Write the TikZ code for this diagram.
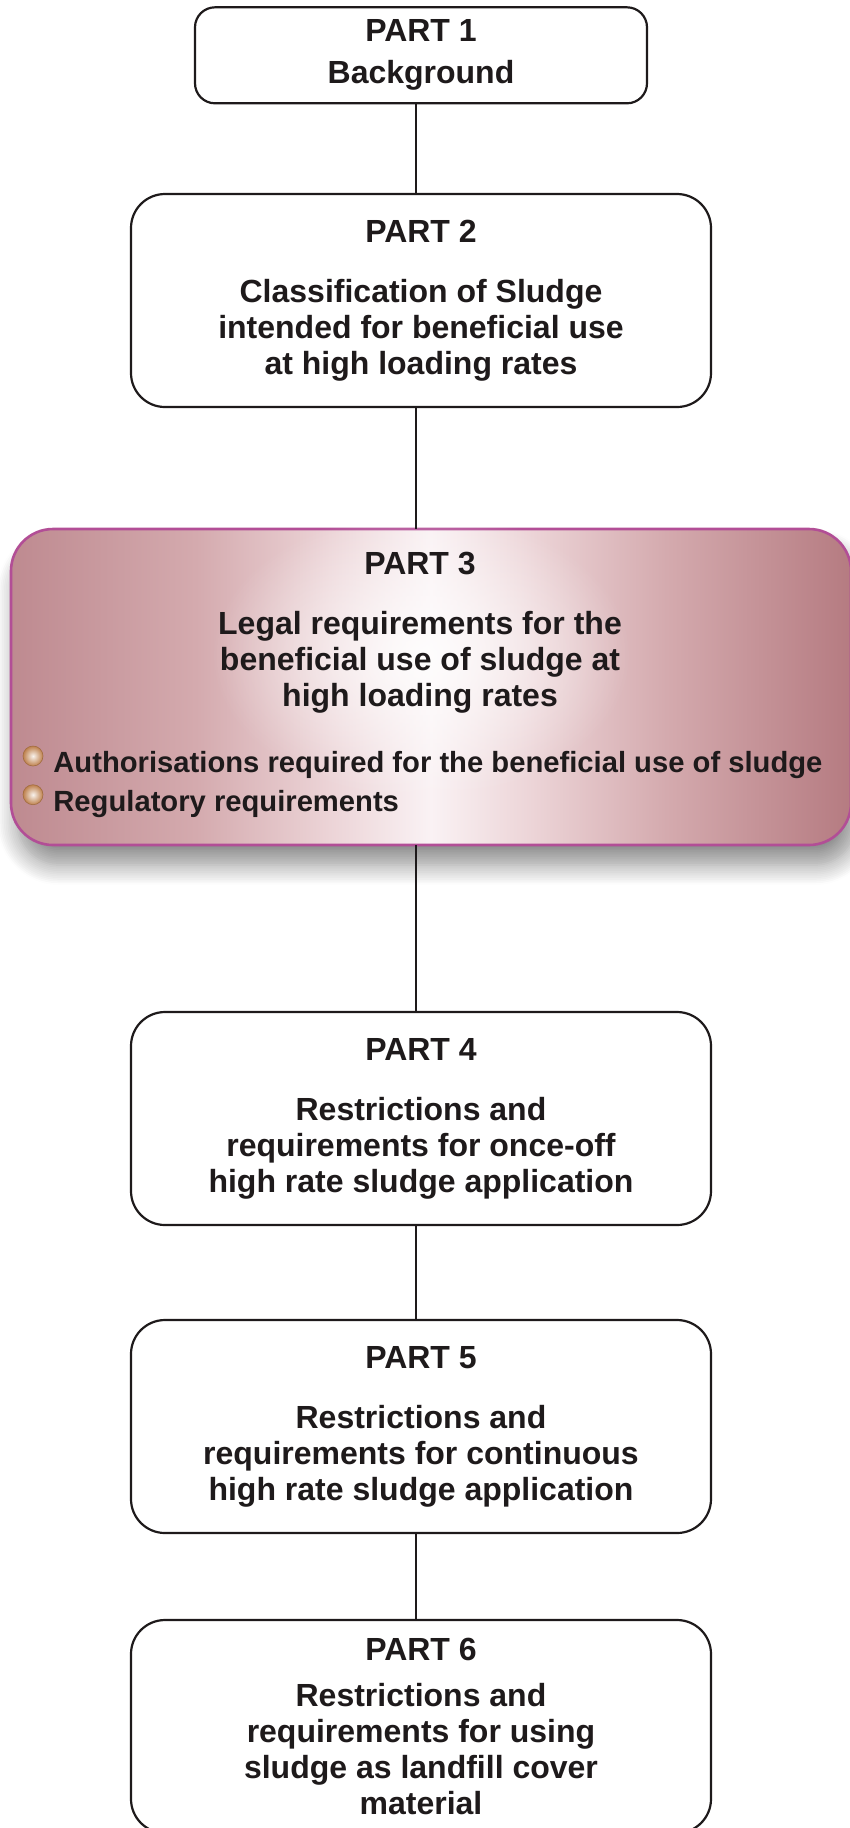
\documentclass[tikz,border=0pt]{standalone}
\usepackage{fontspec}
\setmainfont{Liberation Sans}
\usetikzlibrary{positioning,shadows.blur,fadings}

\definecolor{inkdark}{RGB}{30,26,27}
\definecolor{mauveedge}{RGB}{190,138,144}
\definecolor{mauveright}{RGB}{181,123,129}
\definecolor{mauvemid}{RGB}{212,170,174}
\definecolor{mauvelight}{RGB}{236,212,215}
\definecolor{mauvecore}{RGB}{250,242,244}
\definecolor{rimmagenta}{RGB}{178,78,150}
\definecolor{balltan}{RGB}{190,128,76}

\newcommand{\partfont}{\bfseries\fontsize{16pt}{18pt}\selectfont}
\newcommand{\bulletfont}{\bfseries\fontsize{14.6pt}{17pt}\selectfont}

\pgfdeclarehorizontalshading{partglow}{100bp}{color(0bp)=(mauveedge); color(25bp)=(mauveedge); color(36bp)=(mauvemid); color(44bp)=(mauvelight); color(50bp)=(mauvecore); color(56bp)=(mauvelight); color(64bp)=(mauvemid); color(75bp)=(mauveright); color(100bp)=(mauveright)}
\tikzfading[name=glowfade, inner color=transparent!0, outer color=transparent!100]

\tikzset{
  partbox/.style={draw=inkdark, line width=1.1pt, rounded corners=17pt, fill=white,
    align=center, minimum width=290pt, minimum height=106.5pt,
    inner sep=0pt, outer sep=0pt, text=inkdark, font=\partfont},
  highlightbox/.style={draw=rimmagenta, line width=1.3pt, rounded corners=21pt,
    shading=partglow, minimum width=420pt, minimum height=158pt,
    inner sep=0pt, outer sep=0pt,
    blur shadow={shadow xshift=3pt, shadow yshift=-10pt, shadow blur radius=10pt, shadow blur steps=12, shadow opacity=45}},
  itemtext/.style={inner sep=0pt, text=inkdark, font=\bulletfont, anchor=base west},
  ballmark/.style={circle, minimum size=10pt, inner sep=0pt, draw=balltan!85!black, line width=0.3pt,
    inner color=white!90!balltan, outer color=balltan},
  link/.style={draw=inkdark, line width=1.3pt}
}

\begin{document}
\begin{tikzpicture}[x=0.5pt, y=0.5pt]
    \useasboundingbox (0,0) rectangle (850,-1828);
    \coordinate (spine) at (416,0);
    % top of the chain
    \node (P1) [partbox, minimum width=226pt, minimum height=48pt, rounded corners=10pt] at (421,-55.3) {PART 1\\[3pt]Background};
    \node (P2) [partbox, below=45.35pt of P1] {PART 2\\[12pt]Classification of Sludge\\intended for beneficial use\\at high loading rates};
    % highlighted part
    \node (P3) [highlightbox, below=61pt of P2, xshift=5pt] {};
    \fill[white, opacity=0.85, path fading=glowfade] ([xshift=-5pt, yshift=16pt]P3.center) ellipse [x radius=105pt, y radius=72pt];
    \node (P3title) [partbox, draw=none, fill=none, minimum width=0pt, minimum height=0pt, rounded corners=0pt, anchor=north, below=11.75pt of P3.north, xshift=-5.5pt] {PART 3\\[12pt]Legal requirements for the\\beneficial use of sludge at\\high loading rates};
    \node (B1) [itemtext] at ([xshift=21pt, yshift=-121.7pt]P3.north west) {Authorisations required for the beneficial use of sludge};
    \node (B2) [itemtext] at ([yshift=-19.35pt]B1.base west) {Regulatory requirements};
    \node (D1) [ballmark] at ([xshift=-10pt, yshift=8.2pt]B1.base west) {};
    \node (D2) [ballmark] at ([xshift=-10pt, yshift=8.2pt]B2.base west) {};
    % lower parts
    \node (P4) [partbox, below=83.5pt of P3, xshift=-5pt] {PART 4\\[12pt]Restrictions and\\requirements for once-off\\high rate sludge application};
    \node (P5) [partbox, below=47.5pt of P4] {PART 5\\[12pt]Restrictions and\\requirements for continuous\\high rate sludge application};
    \node (P6) [partbox, below=43.5pt of P5] {PART 6\\[5pt]Restrictions and\\requirements for using\\sludge as landfill cover\\material};
    \draw [link] (P1.south -| spine) -- (P2.north -| spine);
    \draw [link] (P2.south -| spine) -- (P3.north -| spine);
    \draw [link] (P3.south -| spine) -- (P4.north -| spine);
    \draw [link] (P4.south -| spine) -- (P5.north -| spine);
    \draw [link] (P5.south -| spine) -- (P6.north -| spine);
\end{tikzpicture}
\end{document}
